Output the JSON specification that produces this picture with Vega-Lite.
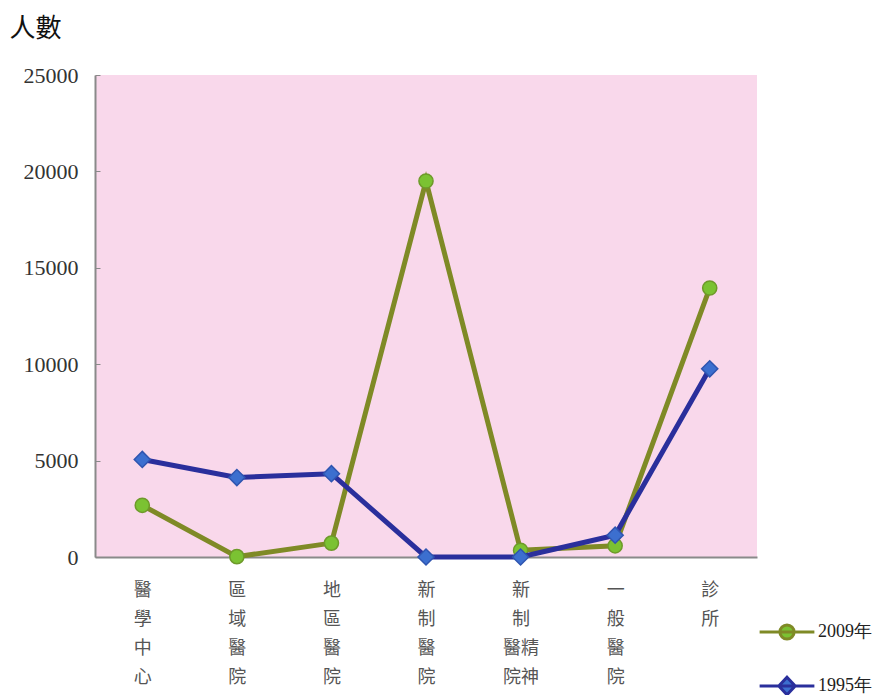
{
  "$schema": "https://vega.github.io/schema/vega-lite/v6.json",
  "autosize": "none",
  "width": 662,
  "height": 482,
  "padding": {"left": 95, "top": 75, "right": 118, "bottom": 138},
  "background": "white",
  "config": {
    "view": {"fill": "#f9d8eb", "stroke": null},
    "font": "Liberation Serif"
  },
  "data": {
    "values": [
      {"cat": "醫學中心", "series": "2009年", "value": 2680},
      {"cat": "區域醫院", "series": "2009年", "value": 20},
      {"cat": "地區醫院", "series": "2009年", "value": 720},
      {"cat": "新制醫院", "series": "2009年", "value": 19500},
      {"cat": "新制精神醫院", "series": "2009年", "value": 350},
      {"cat": "一般醫院", "series": "2009年", "value": 580},
      {"cat": "診所", "series": "2009年", "value": 13950},
      {"cat": "醫學中心", "series": "1995年", "value": 5060},
      {"cat": "區域醫院", "series": "1995年", "value": 4120},
      {"cat": "地區醫院", "series": "1995年", "value": 4320},
      {"cat": "新制醫院", "series": "1995年", "value": 0},
      {"cat": "新制精神醫院", "series": "1995年", "value": 0},
      {"cat": "一般醫院", "series": "1995年", "value": 1130},
      {"cat": "診所", "series": "1995年", "value": 9760}
    ]
  },
  "encoding": {
    "x": {
      "field": "cat",
      "type": "nominal",
      "sort": null,
      "scale": {"type": "point", "padding": 0.5},
      "axis": {
        "title": null,
        "ticks": false,
        "domainColor": "#8a8a8a",
        "domainWidth": 2,
        "labelAngle": 0,
        "labelFont": "Noto Sans CJK TC",
        "labelFontSize": 18,
        "labelColor": "#555555",
        "labelLineHeight": 29,
        "labelPadding": 24,
        "labelBaseline": "top",
        "labelExpr": "datum.value == '新制精神醫院' ? ['\u3000新', '\u3000制', '醫精', '院神'] : split(datum.value, '')"
      }
    },
    "y": {
      "field": "value",
      "type": "quantitative",
      "scale": {"domain": [0, 25000], "nice": false},
      "axis": {
        "values": [0, 5000, 10000, 15000, 20000, 25000],
        "grid": false,
        "format": "d",
        "domainColor": "#8a8a8a",
        "domainWidth": 2,
        "tickColor": "#8a8a8a",
        "tickSize": -5,
        "labelFont": "Liberation Serif",
        "labelFontSize": 22,
        "labelColor": "#333333",
        "labelPadding": 22,
        "title": "人數",
        "titleAngle": 0,
        "titleAlign": "left",
        "titleBaseline": "middle",
        "titleX": -86,
        "titleY": -47,
        "titleFont": "Noto Sans CJK TC",
        "titleFontSize": 26,
        "titleFontWeight": "normal",
        "titleColor": "#111111"
      }
    }
  },
  "layer": [
    {
      "transform": [{"filter": "datum.series == '2009年'"}],
      "mark": {"type": "line", "strokeWidth": 5},
      "encoding": {
        "color": {
          "field": "series",
          "type": "nominal",
          "scale": {"domain": ["2009年", "1995年"], "range": ["#7f8a26", "#2a2f9c"]},
          "legend": {
            "title": null,
            "orient": "none",
            "legendX": 663,
            "legendY": 528,
            "symbolSize": 3000,
            "symbolStrokeWidth": 3,
            "rowPadding": 11,
            "labelFont": "Liberation Serif",
            "labelFontSize": 18,
            "labelColor": "#222222",
            "labelOffset": 2,
            "encode": {
              "symbols": {
                "update": {
                  "shape": {"signal": "datum.value == '2009年' ? 'M-1,0H1M0.26,0A0.26,0.26 0 1,1 -0.26,0A0.26,0.26 0 1,1 0.26,0Z' : 'M-1,0H1M0,-0.32L0.3,0L0,0.32L-0.3,0Z'"},
                  "fill": {"signal": "datum.value == '2009年' ? '#7bc232' : '#3c6fcf'"},
                  "stroke": {"signal": "datum.value == '2009年' ? '#7f8a26' : '#2a2f9c'"},
                  "strokeWidth": {"value": 3}
                }
              }
            }
          }
        }
      }
    },
    {
      "transform": [{"filter": "datum.series == '2009年'"}],
      "mark": {"type": "point", "shape": "circle", "filled": true, "size": 200, "fill": "#7bc232", "stroke": "#6e9a2a", "strokeWidth": 1.5, "opacity": 1}
    },
    {
      "transform": [{"filter": "datum.series == '1995年'"}],
      "mark": {"type": "line", "strokeWidth": 5},
      "encoding": {
        "color": {"field": "series", "type": "nominal"}
      }
    },
    {
      "transform": [{"filter": "datum.series == '1995年'"}],
      "mark": {"type": "point", "shape": "diamond", "filled": true, "size": 260, "fill": "#3c6fcf", "stroke": "#2f55b0", "strokeWidth": 1.5, "opacity": 1}
    }
  ]
}
